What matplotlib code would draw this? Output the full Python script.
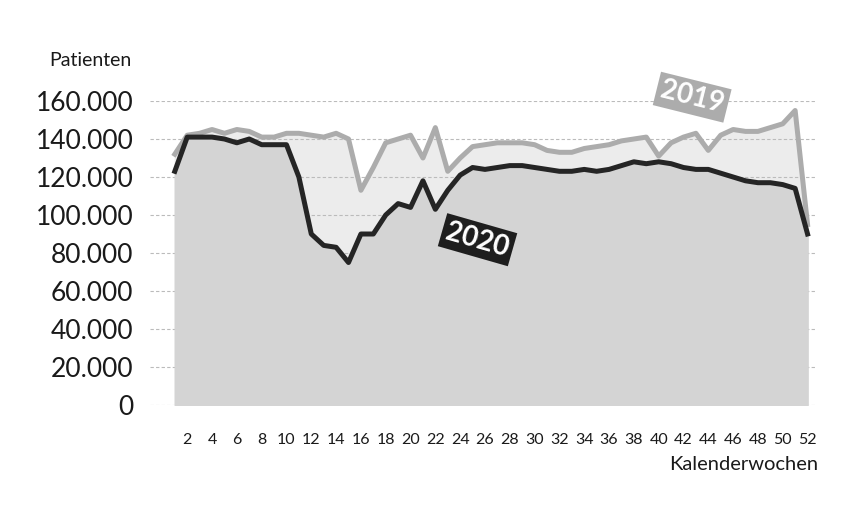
import numpy as np
import matplotlib
matplotlib.use("Agg")
import matplotlib.pyplot as plt
from matplotlib.ticker import FuncFormatter

plt.rcParams['font.family'] = ['Lato', 'DejaVu Sans']

weeks = list(range(1, 53))
patients_2019 = [132000, 142000, 143000, 145000, 143000, 145000, 144000, 141000, 141000, 143000,
                 143000, 142000, 141000, 143000, 140000, 113000, 125000, 138000, 140000, 142000,
                 130000, 146000, 123000, 130000, 136000, 137000, 138000, 138000, 138000, 137000,
                 134000, 133000, 133000, 135000, 136000, 137000, 139000, 140000, 141000, 131000,
                 138000, 141000, 143000, 134000, 142000, 145000, 144000, 144000, 146000, 148000,
                 155000, 95000]
patients_2020 = [123000, 141000, 141000, 141000, 140000, 138000, 140000, 137000, 137000, 137000,
                 120000, 90000, 84000, 83000, 75000, 90000, 90000, 100000, 106000, 104000,
                 118000, 103000, 113000, 121000, 125000, 124000, 125000, 126000, 126000, 125000,
                 124000, 123000, 123000, 124000, 123000, 124000, 126000, 128000, 127000, 128000,
                 127000, 125000, 124000, 124000, 122000, 120000, 118000, 117000, 117000, 116000,
                 114000, 90000]
yticks = list(range(0, 160001, 20000))
xticks = list(range(2, 53, 2))

fig = plt.figure(figsize=(8.49, 5.09), dpi=100)
ax = fig.add_axes([150 / 849, 1 - 405 / 509, 665 / 849, 304 / 509])

ax.fill_between(weeks, patients_2019, color='#ececec', zorder=1)
ax.fill_between(weeks, patients_2020, color='#d4d4d4', zorder=2)
ax.plot(weeks, patients_2019, color='#acacac', lw=3.6, zorder=3, solid_joinstyle='round')
ax.plot(weeks, patients_2020, color='#252525', lw=3.6, zorder=4, solid_joinstyle='round')

ax.set_xlim(-1.0, 52.6)
ax.set_ylim(0, 160000)
ax.set_yticks(yticks)
ax.set_xticks(xticks)
ax.yaxis.set_major_formatter(FuncFormatter(lambda v, p: f"{int(v):,}".replace(",", ".")))
ax.grid(axis='y', color='#bbbbbb', lw=0.8, ls=(0, (3, 2)), zorder=0)
for s in ax.spines.values():
    s.set_visible(False)
ax.tick_params(axis='y', length=0, pad=12, labelsize=19, labelcolor='#1a1a1a')
ax.tick_params(axis='x', length=0, pad=20, labelsize=11.5, labelcolor='#1a1a1a')

fig.text(90 / 849, 1 - 60 / 509, 'Patienten', fontsize=14, ha='center', va='center', color='#1a1a1a')
fig.text(818 / 849, 1 - 465 / 509, 'Kalenderwochen', fontsize=14.5, ha='right', va='center', color='#1a1a1a')

ax.text(42.7, 162000, '2019', fontsize=20, fontweight='bold', color='white', rotation=-14,
        ha='center', va='center', zorder=6, clip_on=False,
        bbox=dict(boxstyle='square,pad=0.15', fc='#acacac', ec='none'))
ax.text(25.4, 87000, '2020', fontsize=20, fontweight='bold', color='white', rotation=-16,
        ha='center', va='center', zorder=6, clip_on=False,
        bbox=dict(boxstyle='square,pad=0.15', fc='#1e1e1e', ec='none'))

fig.savefig('out.png', dpi=100)
